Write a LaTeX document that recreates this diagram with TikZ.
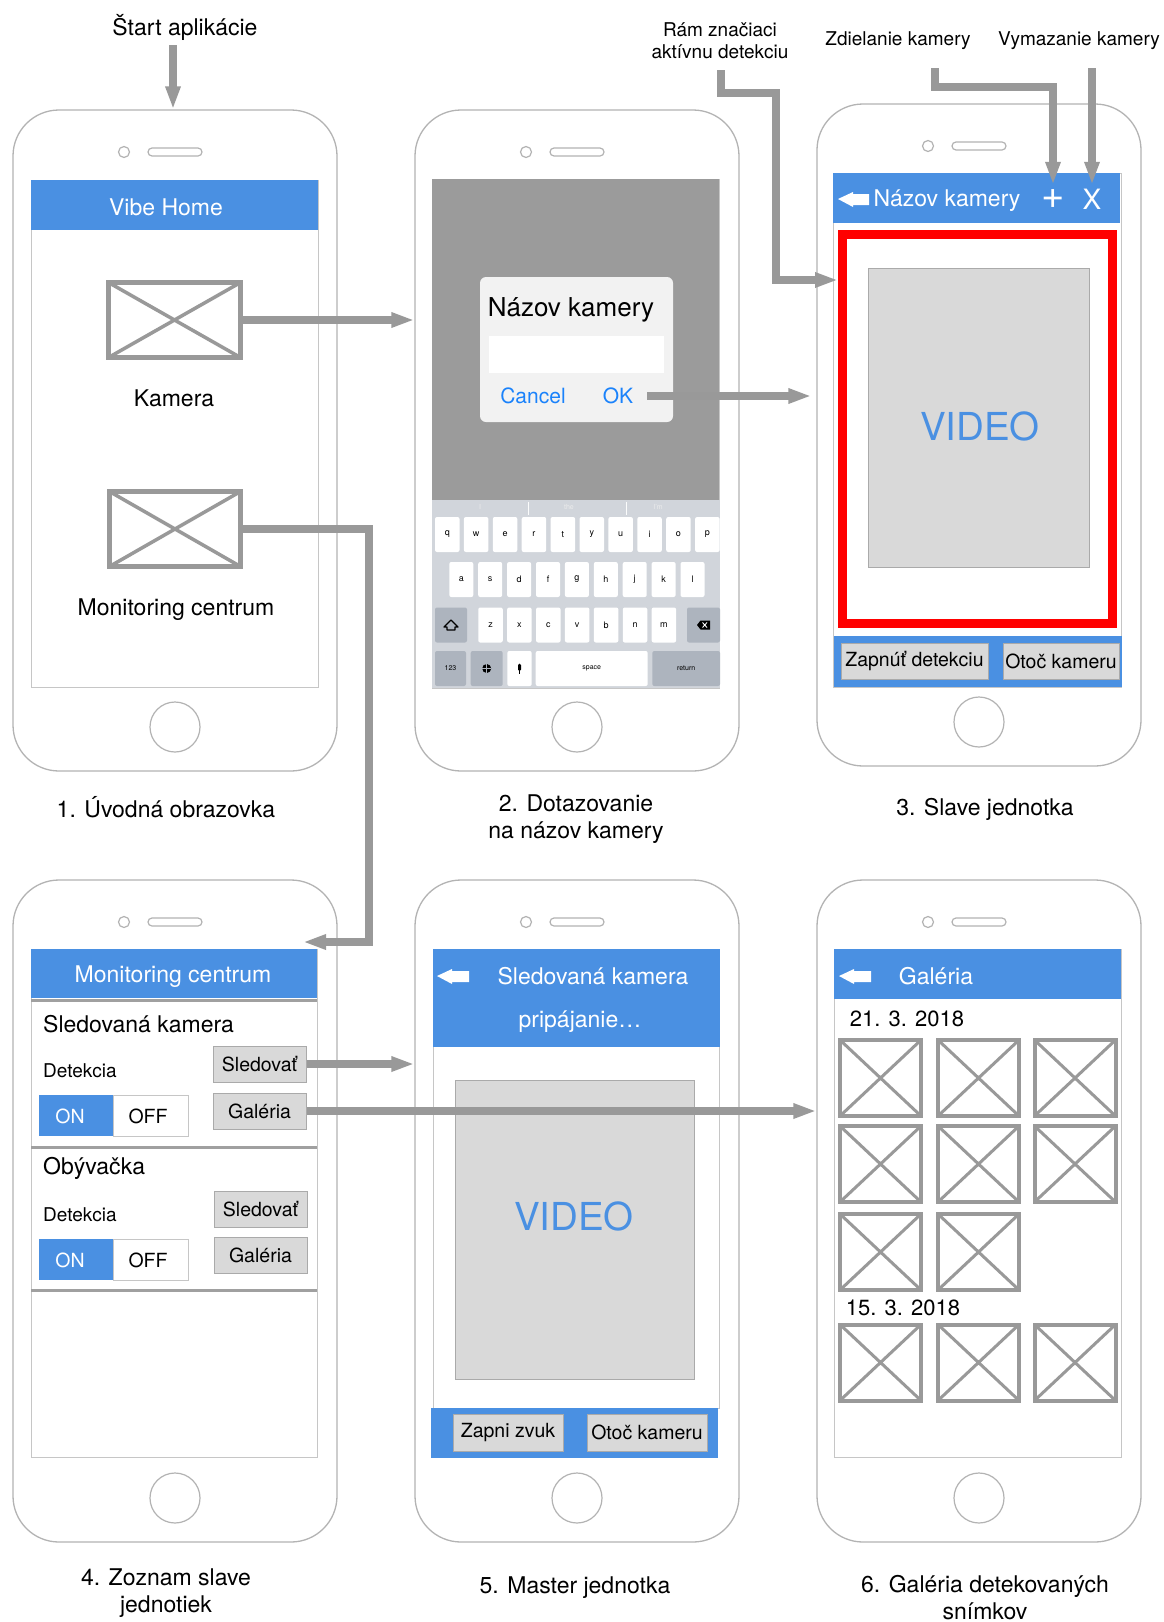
\documentclass[tikz,border=0pt]{standalone}
\usepackage{fontspec}
\setmainfont{TeX Gyre Heros}
\usetikzlibrary{arrows.meta,calc}
\definecolor{hblue}{HTML}{4A90E2}
\definecolor{arrgray}{HTML}{999999}
\definecolor{imggray}{HTML}{999999}
\definecolor{phonegray}{HTML}{B3B3B3}
\definecolor{scrgray}{HTML}{C6C6C6}
\definecolor{btnfill}{HTML}{D9D9D9}
\definecolor{btngray}{HTML}{AAAAAA}
\definecolor{iosblue}{HTML}{1A82FB}
\definecolor{dlgbg}{HTML}{9B9B9B}
\definecolor{kbbg}{HTML}{D1D5DB}
\definecolor{kbdarkc}{HTML}{ADB4BE}
\definecolor{dialogc}{HTML}{F2F2F2}
\definecolor{sepgray}{HTML}{A0A0A0}
\newcommand\fsz[1]{\fontsize{#1}{#1}\selectfont}
\begin{document}
\begin{tikzpicture}[x=1pt,y=-1pt,
  phone/.style={draw=phonegray, line width=1.3, fill=white, rounded corners=46, minimum width=324, minimum height=661, inner sep=0},
  scr/.style={draw=scrgray, line width=1},
  ph/.style 2 args={draw=imggray, line width=#1, inner sep=0,
    path picture={\draw[imggray, line width=#2] (path picture bounding box.north west) -- (path picture bounding box.south east) (path picture bounding box.south west) -- (path picture bounding box.north east);}},
  btn/.style={draw=btngray, fill=btnfill, line width=1, inner sep=0, font=\fsz{19.5}},
  txt/.style={inner sep=0, font=\fsz{23}},
  wtxt/.style={inner sep=0, text=white, font=\fsz{23}},
  arr/.style={draw=arrgray, line width=8, -{Triangle[length=23pt, width=14pt]}},
  kbkey/.style={fill=white, rounded corners=2, inner sep=0, minimum height=35, font=\fsz{9}},
  kbdk/.style={kbkey, fill=kbdarkc},
  video/.style={draw=btngray, fill=btnfill, line width=1, inner sep=0},
  vtxt/.style={inner sep=0, text=hblue, font=\fsz{38.5}},
  backicon/.style={fill=white}
]
\useasboundingbox (0,0) rectangle (1164,1622);
\fill[white] (0,0) rectangle (1164,1622);

% ---------- phones ----------
\node[phone] (p1) at (175,440.5) {};
\node[phone] (p2) at (577,440.5) {};
\node[phone, minimum height=662] (p3) at (979,435) {};
\node[phone, minimum height=662] (p4) at (175,1211) {};
\node[phone, minimum height=662] (p5) at (577,1211) {};
\node[phone, minimum height=662] (p6) at (979,1211) {};
\foreach \cx/\tp/\bt in {175/110/771, 577/110/771, 979/104/766, 175/880/1542, 577/880/1542, 979/880/1542} {
  \draw[phonegray, line width=1.2] (\cx-51,\tp+42) circle (5.5pt);
  \draw[phonegray, line width=1.2, rounded corners=4] (\cx-27,\tp+38) rectangle (\cx+27,\tp+46);
  \draw[phonegray, line width=1.2] (\cx,\bt-44) circle (25pt);
}

% ---------- phone 1 ----------
\draw[scr] (31,180) rectangle (318,687);
\fill[hblue] (31,180) rectangle (318,230);
\node[wtxt] (t1) at (166,207) {Vibe Home};
\node[ph={5}{3.5}, minimum width=132, minimum height=75] (cam1) at (174.5,320) {};
\node[txt] (kam) at (174,398) {Kamera};
\node[ph={5}{3.5}, minimum width=131, minimum height=75] (cam2) at (175,529) {};
\node[txt] (mon) at (176,610) {Monitoring centrum};
\node[txt] (cap1) at (166,807) {1. Úvodná obrazovka};
\node[txt] (start) at (185,27) {Štart aplikácie};

% ---------- phone 2 ----------
\draw[scr] (432,179) rectangle (719,688);
\fill[dlgbg] (432,179) rectangle (719,500);
\fill[kbbg] (432,500) rectangle (720,688);
\node[fill=dialogc, rounded corners=6, minimum width=193, minimum height=145, inner sep=0] (dlg) at (576.5,349.5) {};
\node[txt, font=\fsz{26}] (dlgt) at (571,310) {Názov kamery};
\node[fill=white, minimum width=175, minimum height=37, inner sep=0] (field) at (576.5,354.5) {};
\node[txt, font=\fsz{21}, text=iosblue] (cancel) at (533,396) {Cancel};
\node[txt, font=\fsz{21}, text=iosblue] (ok) at (618,396) {OK};
% keyboard
\draw[white!92!kbbg, line width=0.8] (528,502) -- (528,515) (626,502) -- (626,515);
\node[inner sep=0, text=white!85!gray, font=\fsz{7}] at (480,507) {I};
\node[inner sep=0, text=white!85!gray, font=\fsz{7}] at (569,507) {the};
\node[inner sep=0, text=white!85!gray, font=\fsz{7}] at (658,507) {I'm};
\foreach \ch [count=\i from 0] in {q,w,e,r,t,y,u,i,o,p}
  \node[kbkey, minimum width=24.5] at ({447.25+28.9*\i},534.5) {\ch};
\foreach \ch [count=\i from 0] in {a,s,d,f,g,h,j,k,l}
  \node[kbkey, minimum width=24] at ({461.3+28.9*\i},579.5) {\ch};
\foreach \ch [count=\i from 0] in {z,x,c,v,b,n,m}
  \node[kbkey, minimum width=24.5] at ({490.5+28.9*\i},625) {\ch};
\node[kbdk, minimum width=32] (shift) at (451,625) {};
\draw[black, line width=1.2, line join=round] (447,627) -- (447,630) -- (455,630) -- (455,627) -- (458,627) -- (451,620) -- (444,627) -- cycle;
\node[kbdk, minimum width=33] (bksp) at (703.5,625) {};
\fill[black] (697,625) -- (700.5,620.5) -- (710,620.5) -- (710,629.5) -- (700.5,629.5) -- cycle;
\draw[white, line width=0.9] (702.5,622.5) -- (707,627.5) (702.5,627.5) -- (707,622.5);
\node[kbdk, minimum width=31] (n123) at (450.5,668.5) {\fsz{7}123};
\node[kbdk, minimum width=32] (globe) at (486.7,668.5) {};
\fill[black] (486.7,668.5) circle (4.5pt);
\draw[kbdarkc, line width=0.6] (482.2,668.5) -- (491.2,668.5) (486.7,664) -- (486.7,673);
\node[kbkey, minimum width=24.4] (mic) at (519.5,668.5) {};
\fill[black, rounded corners=1.5] (518,663.5) rectangle (521,671);
\draw[black, line width=0.8] (519.5,671) -- (519.5,673.5);
\node[kbkey, minimum width=112] (space) at (591.7,668.5) {\fsz{7}space};
\node[kbdk, minimum width=67.7] (ret) at (686.2,668.5) {\fsz{7}return};
\node[txt, align=center, font=\fontsize{23}{27}\selectfont] (cap2) at (576,819) {2. Dotazovanie\\na názov kamery};

% ---------- phone 3 ----------
\draw[scr] (833,173) rectangle (1121,687);
\fill[hblue] (833,173) rectangle (1120,223);
\fill[backicon] (838,199) -- (853,192) -- (853,194) -- (869,194) -- (869,205) -- (853,205) -- (853,207) -- cycle;
\node[wtxt] (t3) at (947,201) {Názov kamery};
\node[inner sep=0, text=white, font=\fsz{40}, minimum height=28] (plus) at (1053,199) {+};
\node[inner sep=0, text=white, font=\fsz{28}, minimum height=28] (xbtn) at (1092,199) {X};
\node[draw=red, line width=9, minimum width=270, minimum height=389, inner sep=0] (frame) at (977.5,429) {};
\node[video, minimum width=221, minimum height=299] (vid3) at (978.5,417.5) {};
\node[vtxt] (vt3) at (980,426) {VIDEO};
\fill[hblue] (834,636) rectangle (1122,687);
\node[btn, minimum width=147, minimum height=36] (zap) at (914.5,661) {Zapnúť detekciu};
\node[btn, minimum width=116, minimum height=36] (otoc3) at (1061,661) {Otoč kameru};
\node[txt] (cap3) at (985,809) {3. Slave jednotka};
\node[txt, align=center, font=\fontsize{19}{22}\selectfont] (ram) at (720,41) {Rám značiaci\\aktívnu detekciu};
\node[txt, font=\fsz{19}] (zdiel) at (898,41) {Zdielanie kamery};
\node[txt, font=\fsz{19}] (vymaz) at (1079,41) {Vymazanie kamery};

% ---------- phone 4 ----------
\draw[scr] (31,949) rectangle (317,1457);
\fill[hblue] (31,949) rectangle (317,998);
\node[wtxt] (t4) at (173,977) {Monitoring centrum};
\foreach \yy in {1000,1147,1290} \draw[sepgray, line width=3] (31,\yy) -- (317,\yy);
\node[txt, anchor=west] (sk) at (43,1024) {Sledovaná kamera};
\node[txt, font=\fsz{19}, anchor=west] (det1) at (43,1071) {Detekcia};
\fill[hblue] (39,1095) rectangle (113,1136);
\draw[scrgray, fill=white] (113,1095) rectangle (188,1136);
\node[txt, font=\fsz{19.5}, text=white] (on1) at (70,1116) {ON};
\node[txt, font=\fsz{19.5}] (off1) at (148,1116) {OFF};
\node[btn, minimum width=93, minimum height=36] (sled1) at (259.5,1064) {Sledovať};
\node[btn, minimum width=93, minimum height=36] (gal1) at (259.5,1111) {Galéria};
\node[txt, anchor=west] (oby) at (43,1168) {Obývačka};
\node[txt, font=\fsz{19}, anchor=west] (det2) at (43,1215) {Detekcia};
\fill[hblue] (39,1239) rectangle (113,1280);
\draw[scrgray, fill=white] (113,1239) rectangle (188,1280);
\node[txt, font=\fsz{19.5}, text=white] (on2) at (70,1260) {ON};
\node[txt, font=\fsz{19.5}] (off2) at (148,1260) {OFF};
\node[btn, minimum width=93, minimum height=36] (sled2) at (260.5,1209) {Sledovať};
\node[btn, minimum width=93, minimum height=36] (gal2) at (260.5,1255) {Galéria};
\node[txt, align=center, font=\fontsize{23}{27}\selectfont] (cap4) at (166,1593) {4. Zoznam slave\\jednotiek};

% ---------- phone 5 ----------
\draw[scr] (433,949) rectangle (719,1408);
\fill[hblue] (433,949) rectangle (720,1047);
\fill[backicon] (437,976) -- (452,969) -- (452,971) -- (469,971) -- (469,982) -- (452,982) -- (452,984) -- cycle;
\node[wtxt] (t5) at (593,976) {Sledovaná kamera};
\node[wtxt] (t5b) at (580,1022) {pripájanie…};
\node[video, minimum width=239, minimum height=299] (vid5) at (574.5,1229.5) {};
\node[vtxt] (vt5) at (574,1216) {VIDEO};
\fill[hblue] (431,1408) rectangle (718,1458);
\node[btn, minimum width=110, minimum height=37] (zvuk) at (508,1432.5) {Zapni zvuk};
\node[btn, minimum width=120, minimum height=37] (otoc5) at (647,1432.5) {Otoč kameru};
\node[txt] (cap5) at (575,1588) {5. Master jednotka};

% ---------- phone 6 ----------
\draw[scr] (834,949) rectangle (1121,1457);
\fill[hblue] (834,949) rectangle (1121,999);
\fill[backicon] (839,976) -- (854,969) -- (854,971) -- (871,971) -- (871,982) -- (854,982) -- (854,984) -- cycle;
\node[wtxt] (t6) at (936,976) {Galéria};
\node[txt, font=\fsz{22}] (d1) at (907,1019) {21. 3. 2018};
\node[txt, font=\fsz{22}] (d2) at (903,1308) {15. 3. 2018};
\foreach \gx/\gy/\nm in {880.5/1078/a, 978.5/1078/b, 1075/1078/c,
                         880.5/1164/d, 978.5/1164/e, 1075/1164/f,
                         880.5/1252/g, 978.5/1252/h,
                         880.5/1362.5/i, 978.5/1362.5/j, 1075/1362.5/k}
  \node[ph={4}{3}, minimum width=81, minimum height=76] (g\nm) at (\gx,\gy) {};
\node[txt, align=center, font=\fontsize{23}{27}\selectfont] (cap6) at (985,1598) {6. Galéria detekovaných\\snímkov};

% ---------- connectors ----------
\coordinate (s0) at (173,45);
\draw[arr] (s0) -- (s0 |- p1.north);
\draw[arr] (cam1.east) -- (cam1.east -| p2.west);
\coordinate (b2) at (369,942);
\coordinate (c2t) at (303,942);
\draw[arr] (cam2.east) -| (b2) -- (c2t);
\draw[arr] ([xshift=14]ok.east) -- ([xshift=-5]ok.east -| p3.west);
\coordinate (r0) at (721,70);
\coordinate (rb) at (776,280);
\draw[arr] (r0) -- ++(0,23) -| (rb) -- (rb -| frame.west);
\coordinate (z0) at (935,68);
\draw[arr] (z0) -- ++(0,19) -| (plus.north);
\coordinate (v0) at (1092,68);
\draw[arr] (v0) -- (xbtn.north);
\draw[arr] (sled1.east) -- (sled1.east -| p5.west);
\draw[arr] (gal1.east) -- (gal1.east -| p6.west);
\end{tikzpicture}
\end{document}
